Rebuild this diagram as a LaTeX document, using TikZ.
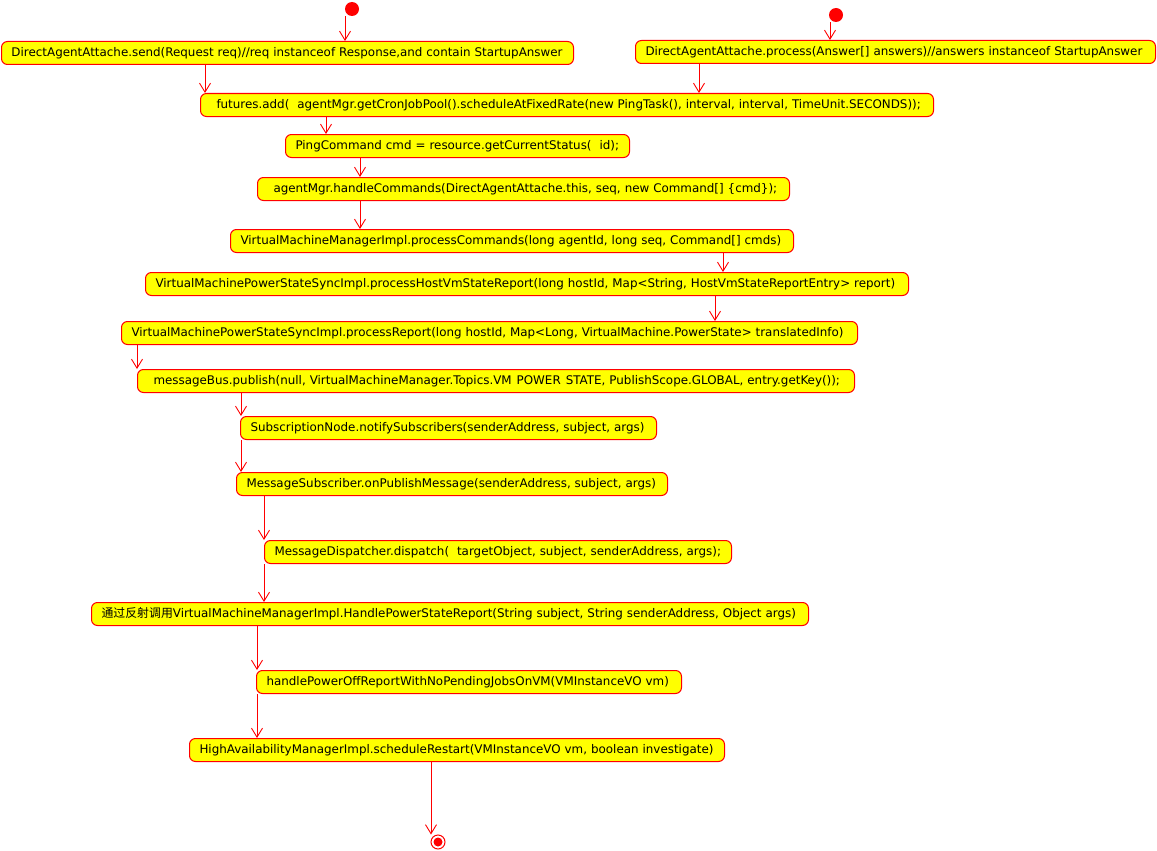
\documentclass[tikz,border=0pt]{standalone}
\usepackage{fontspec}
\setmainfont{DejaVu Sans}
\newfontfamily\cjk{Noto Sans CJK SC}
\usetikzlibrary{arrows.meta}
\definecolor{actred}{RGB}{255,0,0}
\definecolor{actfill}{RGB}{255,255,0}
\begin{document}
\begin{tikzpicture}[x=1pt,y=-1pt,
  act/.style={draw=actred, fill=actfill, line width=1pt, rounded corners=6pt,
    anchor=north west, minimum height=23pt, inner xsep=10pt, inner ysep=0pt,
    align=left, font=\fontsize{11.9}{13.5}\selectfont},
  flow/.style={draw=actred, line width=0.9pt, -{Straight Barb[length=9pt,width=11pt,line width=0.9pt]}},
  startdot/.style={circle, fill=actred, minimum size=14pt, inner sep=0pt},
  enddot/.style={circle, draw=actred, line width=1pt, fill=white, minimum size=14pt, inner sep=0pt}]
\useasboundingbox (0,0) rectangle (1157,851);

% initial states
\node[startdot] (s1) at (352,9) {};
\node[startdot] (s2) at (836,15) {};

% activities
\node[act, text width=552pt] (n1) at (1,41) {DirectAgentAttache.send(Request req)//req instanceof Response,and contain StartupAnswer};
\node[act, text width=500pt] (n2) at (635,40) {DirectAgentAttache.process(Answer[] answers)//answers instanceof StartupAnswer};
\node[act, text width=713pt] (n3) at (200,93) {\hspace{6pt}futures.add(\ \ agentMgr.getCronJobPool().scheduleAtFixedRate(new PingTask(), interval, interval, TimeUnit.SECONDS));};
\node[act, text width=324pt] (n4) at (285,134) {PingCommand cmd = resource.getCurrentStatus(\ \ id);};
\node[act, text width=512pt] (n5) at (257,177) {\hspace{6pt}agentMgr.handleCommands(DirectAgentAttache.this, seq, new Command[] \{cmd\});};
\node[act, text width=543pt] (n6) at (230,229) {VirtualMachineManagerImpl.processCommands(long agentId, long seq, Command[] cmds)};
\node[act, text width=743pt] (n7) at (145,272) {VirtualMachinePowerStateSyncImpl.processHostVmStateReport(long hostId, Map<String, HostVmStateReportEntry> report)};
\node[act, text width=716pt] (n8) at (121,321) {VirtualMachinePowerStateSyncImpl.processReport(long hostId, Map<Long, VirtualMachine.PowerState> translatedInfo)};
\node[act, text width=697pt] (n9) at (137,369) {\hspace{6pt}messageBus.publish(null, VirtualMachineManager.Topics.VM\hspace{5pt}POWER\hspace{5pt}STATE, PublishScope.GLOBAL, entry.getKey());};
\node[act, text width=396pt] (n10) at (240,416) {SubscriptionNode.notifySubscribers(senderAddress, subject, args)};
\node[act, text width=411pt] (n11) at (236,472) {MessageSubscriber.onPublishMessage(senderAddress, subject, args)};
\node[act, text width=447pt] (n12) at (264,540) {MessageDispatcher.dispatch(\ \ targetObject, subject, senderAddress, args);};
\node[act, text width=697pt] (n13) at (91,602) {{\cjk 通过反射调用}VirtualMachineManagerImpl.HandlePowerStateReport(String subject, String senderAddress, Object args)};
\node[act, text width=405pt] (n14) at (256,670) {handlePowerOffReportWithNoPendingJobsOnVM(VMInstanceVO vm)};
\node[act, text width=515pt] (n15) at (189,738) {HighAvailabilityManagerImpl.scheduleRestart(VMInstanceVO vm, boolean investigate)};

% final state
\node[enddot] (e) at (438,842) {};
\fill[actred] (e.center) circle (4.5pt);

% control flow
\draw[flow] (345,0 |- s1.south) -- (345,0 |- n1.north);
\draw[flow] (830,0 |- s2.south) -- (830,0 |- n2.north);
\draw[flow] (205,0 |- n1.south) -- (205,0 |- n3.north);
\draw[flow] (699,0 |- n2.south) -- (699,0 |- n3.north);
\draw[flow] (326,0 |- n3.south) -- (326,0 |- n4.north);
\draw[flow] (360,0 |- n4.south) -- (360,0 |- n5.north);
\draw[flow] (360,0 |- n5.south) -- (360,0 |- n6.north);
\draw[flow] (723,0 |- n6.south) -- (723,0 |- n7.north);
\draw[flow] (715,0 |- n7.south) -- (715,0 |- n8.north);
\draw[flow] (137,0 |- n8.south) -- (137,0 |- n9.north);
\draw[flow] (241,0 |- n9.south) -- (241,0 |- n10.north);
\draw[flow] (241,0 |- n10.south) -- (241,0 |- n11.north);
\draw[flow] (264,0 |- n11.south) -- (264,0 |- n12.north);
\draw[flow] (264,0 |- n12.south) -- (264,0 |- n13.north);
\draw[flow] (257,0 |- n13.south) -- (257,0 |- n14.north);
\draw[flow] (257,0 |- n14.south) -- (257,0 |- n15.north);
\draw[flow] (431,0 |- n15.south) -- (431,0 |- e.north);
\end{tikzpicture}
\end{document}
